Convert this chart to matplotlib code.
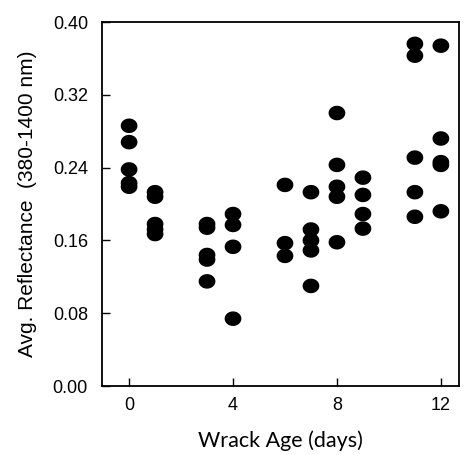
import matplotlib
matplotlib.use("Agg")
import matplotlib.pyplot as plt
import numpy as np
from matplotlib.path import Path

plt.rcParams['font.family'] = ['Liberation Sans', 'DejaVu Sans']

days = [0]*5 + [1]*5 + [3]*5 + [4]*4 + [6]*3 + [7]*5 + [8]*5 + [9]*4 + [11]*5 + [12]*5
reflectance = [0.286, 0.268, 0.238, 0.223, 0.219,
               0.213, 0.208, 0.178, 0.172, 0.167,
               0.178, 0.174, 0.144, 0.139, 0.115,
               0.189, 0.177, 0.153, 0.074,
               0.221, 0.157, 0.143,
               0.213, 0.172, 0.160, 0.149, 0.110,
               0.300, 0.243, 0.219, 0.208, 0.158,
               0.229, 0.210, 0.189, 0.173,
               0.376, 0.363, 0.251, 0.213, 0.186,
               0.374, 0.272, 0.246, 0.243, 0.192]
xticks = [0, 4, 8, 12]
yticks = [0.00, 0.08, 0.16, 0.24, 0.32, 0.40]

t = np.linspace(0, 2*np.pi, 60)
ell = Path(np.column_stack([1.15*np.cos(t), np.sin(t)]))

fig = plt.figure(figsize=(4.67, 4.55), dpi=100)
ax = fig.add_axes([0.218, 0.1516, 0.765, 0.80])
ax.scatter(days, reflectance, marker=ell, s=145, color='black', edgecolors='none')
ax.set_xlim(-1.05, 12.7)
ax.set_ylim(0, 0.40)
ax.set_xticks(xticks)
ax.set_yticks(yticks)
ax.set_xticklabels([str(v) for v in xticks])
ax.set_yticklabels([f"{v:.2f}" for v in yticks])
ax.tick_params(direction='in', length=6, width=1, labelsize=13)
ax.tick_params(axis='x', pad=8)
ax.tick_params(axis='y', pad=10)
for s in ax.spines.values():
    s.set_linewidth(1.3)
ax.set_xlabel('Wrack Age (days)', family='Lato', fontsize=15.5, labelpad=12)
ax.set_ylabel('Avg. Reflectance  (380-1400 nm)', fontsize=15, labelpad=11)
fig.savefig('out.png', dpi=100)
